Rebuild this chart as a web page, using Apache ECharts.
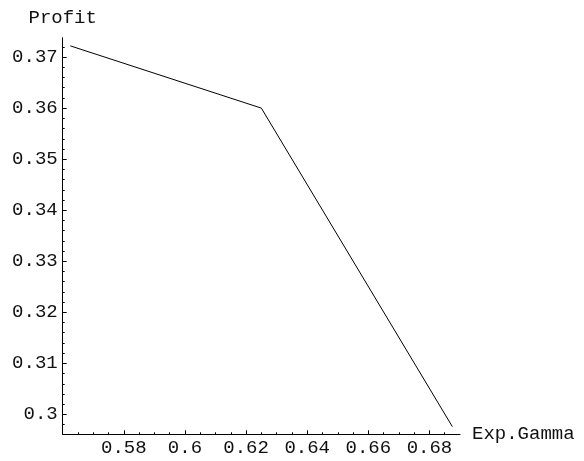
<!DOCTYPE html>
<html>
<head>
<meta charset="utf-8">
<script src="https://cdn.jsdelivr.net/npm/echarts@6/dist/echarts.min.js"></script>
<style>html,body{margin:0;padding:0;background:#fff}#c{width:584px;height:461px}</style>
</head>
<body>
<div id="c"></div>
<script>
const gamma = [0.5625, 0.625, 0.6875];
const profit = [0.3722, 0.36, 0.2976];
const xMajorTicks = [0.58, 0.6, 0.62, 0.64, 0.66, 0.68];
const xMinorTicks = [0.565, 0.57, 0.575, 0.585, 0.59, 0.595, 0.605, 0.61, 0.615, 0.625, 0.63, 0.635, 0.645, 0.65, 0.655, 0.665, 0.67, 0.675, 0.685];
const yMajorTicks = [0.3, 0.31, 0.32, 0.33, 0.34, 0.35, 0.36, 0.37];
const yMinorTicks = [0.298, 0.302, 0.304, 0.306, 0.308, 0.312, 0.314, 0.316, 0.318, 0.322, 0.324, 0.326, 0.328, 0.332, 0.334, 0.336, 0.338, 0.342, 0.344, 0.346, 0.348, 0.352, 0.354, 0.356, 0.358, 0.362, 0.364, 0.366, 0.368, 0.372];

const font = 'Liberation Mono';
const fs = 19;
const xMin = 0.56, xMax = 0.69, yMin = 0.2961, yMax = 0.3738;
const chart = echarts.init(document.getElementById('c'), null, {renderer: 'canvas'});
const lineStyle = {color: '#000', width: 1};
const txt = '#111';
chart.setOption({
  animation: false,
  grid: {left: 62.7, right: 124, top: 37.7, bottom: 26.7, containLabel: false},
  xAxis: [{
    type: 'value', min: xMin, max: xMax, position: 'bottom',
    name: 'Exp.Gamma', nameLocation: 'end', nameGap: 12,
    nameTextStyle: {fontFamily: font, fontSize: fs, color: txt},
    axisLine: {show: true, lineStyle: lineStyle},
    axisTick: {show: true, inside: true, length: 4, customValues: xMajorTicks, lineStyle: lineStyle},
    axisLabel: {show: true, customValues: xMajorTicks, fontFamily: font, fontSize: fs, color: txt, margin: 4},
    splitLine: {show: false}
  }, {
    type: 'value', min: xMin, max: xMax, position: 'bottom',
    axisLine: {show: false},
    axisTick: {show: true, inside: true, length: 2, customValues: xMinorTicks, lineStyle: lineStyle},
    axisLabel: {show: false},
    splitLine: {show: false}
  }],
  yAxis: [{
    type: 'value', min: yMin, max: yMax, position: 'left',
    name: 'Profit', nameLocation: 'end', nameGap: 10,
    nameTextStyle: {fontFamily: font, fontSize: fs, color: txt},
    axisLine: {show: true, lineStyle: lineStyle},
    axisTick: {show: true, inside: true, length: 4, customValues: yMajorTicks, lineStyle: lineStyle},
    axisLabel: {show: true, customValues: yMajorTicks, fontFamily: font, fontSize: fs, color: txt, margin: 5},
    splitLine: {show: false}
  }, {
    type: 'value', min: yMin, max: yMax, position: 'left',
    axisLine: {show: false},
    axisTick: {show: true, inside: true, length: 2, customValues: yMinorTicks, lineStyle: lineStyle},
    axisLabel: {show: false},
    splitLine: {show: false}
  }],
  series: [{
    type: 'line',
    data: gamma.map((g, i) => [g, profit[i]]),
    xAxisIndex: 0, yAxisIndex: 0,
    showSymbol: false, symbol: 'none',
    lineStyle: {color: '#000', width: 1}
  }]
});
</script>
</body>
</html>
